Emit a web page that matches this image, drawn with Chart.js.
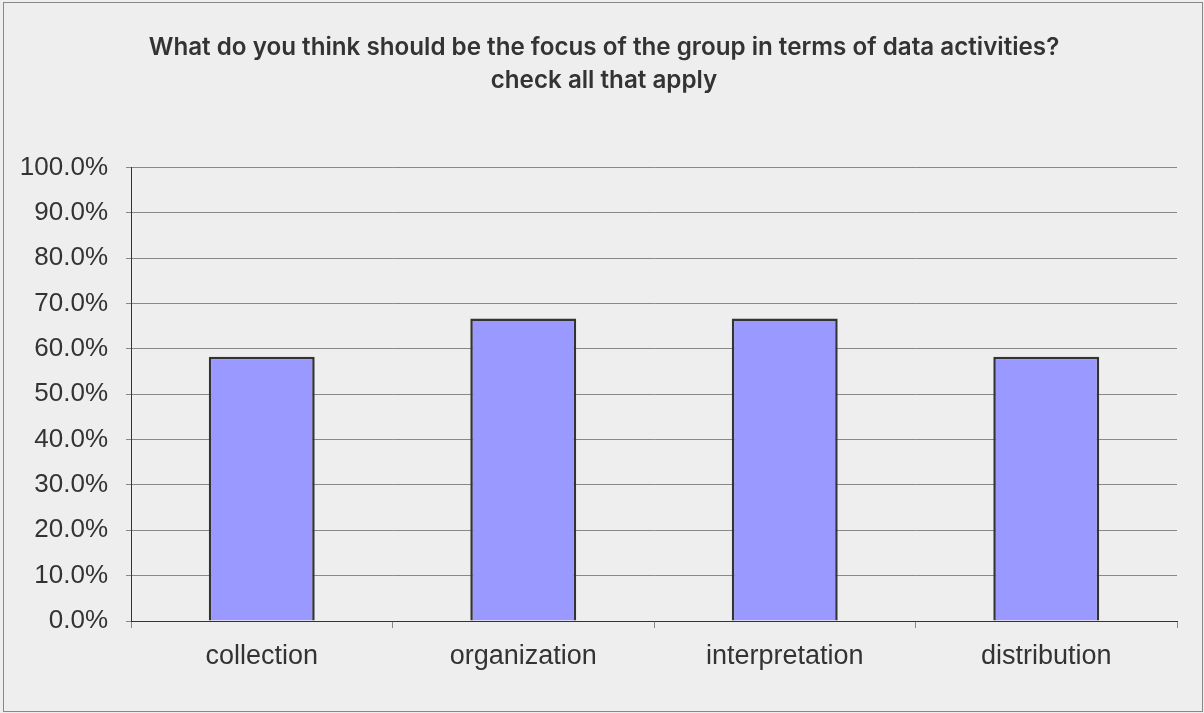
<!DOCTYPE html>
<html>
<head>
<meta charset="utf-8">
<script src="https://cdn.jsdelivr.net/npm/chart.js@4"></script>
<style>
  body { margin: 0; background: #eeeeee; }
  .wrap { position: absolute; left: 0; top: 0; width: 1204px; height: 713px; }
</style>
</head>
<body>
<div class="wrap"><canvas id="focus-chart"></canvas></div>
<script>
var categories = ['collection', 'organization', 'interpretation', 'distribution'];
var shares = [0.583, 0.667, 0.667, 0.583];
var titleLines = [
  'What do you think should be the focus of the group in terms of data activities?',
  'check all that apply'
];

//  frame + background
var framePlugin = {
  id: 'frame',
  beforeDraw: function(chart) {
    var c = chart.ctx;
    c.save();
    c.fillStyle = '#eeeeee';
    c.fillRect(0, 0, chart.width, chart.height);
    c.strokeStyle = '#888888';
    c.lineWidth = 1;
    c.strokeRect(3.5, 2.5, 1199, 709);
    c.restore();
  }
};

(function() {
  var ctx = document.getElementById('focus-chart');
  var focusChart = new Chart(ctx, {
    type: 'bar',
    data: {
      labels: categories,
      datasets: [{
        data: shares,
        backgroundColor: '#9999ff',
        borderColor: '#333333',
        borderWidth: 2.5,
        barPercentage: 0.405,
        categoryPercentage: 1
      }]
    },
    options: {
      responsive: true,
      maintainAspectRatio: false,
      animation: false,
      layout: { padding: { left: 4, right: 0, top: 0, bottom: 0 } },
      plugins: {
        legend: { display: false },
        tooltip: { enabled: false },
        title: {
          display: true,
          text: titleLines,
          color: '#333333',
          font: { family: 'Inter', size: 24.2, weight: 600, lineHeight: 1.3333 },
          padding: { top: 32, bottom: 71 }
        }
      },
      scales: {
        y: {
          min: 0,
          max: 1,
          ticks: {
            stepSize: 0.1,
            color: '#333333',
            padding: 18,
            font: { family: 'Liberation Sans', size: 26 },
            callback: function(v) { return (v * 100).toFixed(1) + '%'; }
          },
          grid: { color: '#888888', tickLength: 5, tickColor: '#888888' },
          border: { color: '#333333', width: 1 },
          afterFit: function(s) { s.width = 127; }
        },
        // empty strip on the right so the title stays centred on the page
        spacer: {
          position: 'right',
          ticks: { display: false },
          grid: { display: false },
          border: { display: false },
          afterFit: function(s) { s.width = 27; }
        },
        x: {
          ticks: {
            color: '#333333',
            padding: 12,
            font: { family: 'Liberation Sans', size: 27 }
          },
          grid: { drawOnChartArea: false, tickLength: 7, tickColor: '#888888' },
          border: { color: '#333333', width: 1 },
          afterFit: function(s) { s.height = 92; }
        }
      }
    },
    plugins: [framePlugin]
  });
})();
</script>
</body>
</html>
